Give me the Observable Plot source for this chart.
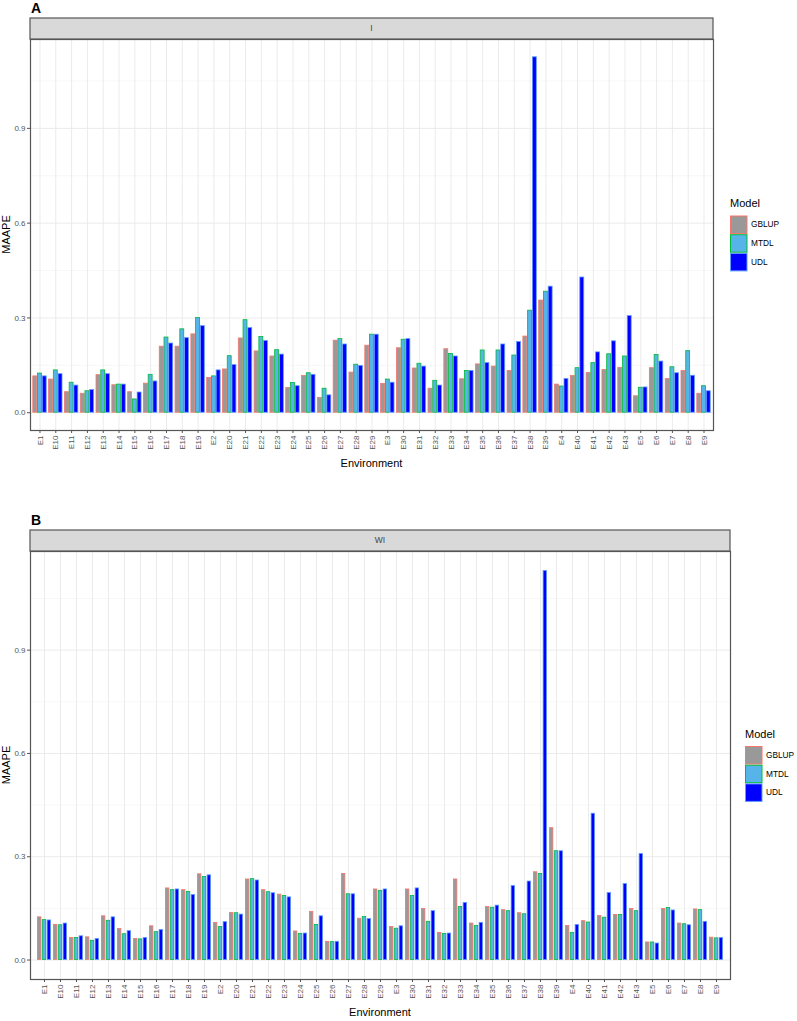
<!DOCTYPE html>
<html>
<head>
<meta charset="utf-8">
<script src="https://cdn.jsdelivr.net/npm/d3@7"></script>
<script src="https://cdn.jsdelivr.net/npm/@observablehq/plot@0.6"></script>
<style>
  body { margin: 0; background: #fff; font-family: "Liberation Sans", Arial, sans-serif; }
  #chart svg { display: block; }
</style>
</head>
<body>
<div id="chart"></div>
<script>
const environments = ["E1","E10","E11","E12","E13","E14","E15","E16","E17","E18","E19","E2","E20","E21","E22","E23","E24","E25","E26","E27","E28","E29","E3","E30","E31","E32","E33","E34","E35","E36","E37","E38","E39","E4","E40","E41","E42","E43","E5","E6","E7","E8","E9"];
const models = ["GBLUP", "MTDL", "UDL"];
const yTicks = [0, 0.3, 0.6, 0.9];
const yMinorTicks = [0.15, 0.45, 0.75, 1.05];

// Panel A (I)
const A_GBLUP = [0.115,0.105,0.065,0.060,0.119,0.087,0.065,0.092,0.209,0.209,0.248,0.110,0.137,0.235,0.194,0.178,0.078,0.116,0.047,0.228,0.127,0.212,0.091,0.204,0.140,0.076,0.201,0.106,0.153,0.146,0.132,0.241,0.355,0.089,0.116,0.126,0.135,0.142,0.052,0.141,0.107,0.132,0.060];
const A_MTDL  = [0.124,0.134,0.095,0.068,0.134,0.089,0.042,0.120,0.238,0.264,0.300,0.115,0.179,0.293,0.240,0.198,0.094,0.125,0.076,0.233,0.152,0.247,0.105,0.231,0.155,0.101,0.186,0.132,0.197,0.197,0.181,0.323,0.383,0.083,0.141,0.157,0.185,0.178,0.079,0.183,0.144,0.195,0.084];
const A_UDL   = [0.115,0.122,0.086,0.072,0.122,0.089,0.064,0.099,0.219,0.236,0.274,0.134,0.151,0.268,0.227,0.184,0.084,0.120,0.055,0.216,0.148,0.247,0.095,0.233,0.146,0.086,0.178,0.132,0.157,0.216,0.224,1.125,0.399,0.107,0.428,0.191,0.226,0.306,0.080,0.162,0.125,0.117,0.068];

// Panel B (WI)
const B_GBLUP = [0.124,0.102,0.064,0.066,0.127,0.090,0.061,0.098,0.208,0.203,0.249,0.108,0.137,0.234,0.203,0.190,0.083,0.140,0.053,0.250,0.120,0.205,0.096,0.205,0.148,0.079,0.234,0.106,0.154,0.145,0.136,0.255,0.383,0.099,0.113,0.128,0.131,0.148,0.051,0.148,0.106,0.147,0.065];
const B_MTDL  = [0.116,0.101,0.064,0.056,0.114,0.075,0.060,0.081,0.203,0.198,0.241,0.096,0.136,0.235,0.197,0.186,0.076,0.102,0.052,0.191,0.125,0.201,0.091,0.186,0.111,0.076,0.154,0.099,0.152,0.142,0.133,0.250,0.316,0.079,0.109,0.123,0.131,0.142,0.051,0.151,0.104,0.145,0.063];
const B_UDL   = [0.115,0.106,0.069,0.061,0.124,0.084,0.064,0.087,0.205,0.189,0.246,0.110,0.132,0.231,0.194,0.182,0.077,0.127,0.053,0.191,0.119,0.205,0.098,0.208,0.142,0.077,0.166,0.108,0.158,0.215,0.228,1.130,0.316,0.102,0.425,0.195,0.221,0.308,0.048,0.144,0.101,0.111,0.064];

const fills   = ["#999999", "#56B4E9", "#0000FF"];
const strokes = ["#F8766D", "#00BA38", "#619CFF"];
const FONT = "'Liberation Sans', Arial, sans-serif";

function makeTable(series) {
  const rows = [];
  environments.forEach((env, i) => {
    models.forEach((m, k) => rows.push({env, model: m, value: series[k][i]}));
  });
  return rows;
}

function decorations(letter, stripLabel, legendGap) {
  return (index, scales, values, dims) => {
    const g = d3.create("svg:g").attr("font-family", FONT);
    const x0 = dims.marginLeft;
    const x1 = dims.width - dims.marginRight;
    const y0 = dims.marginTop;
    const y1 = dims.height - dims.marginBottom;
    const w = x1 - x0;
    // panel letter
    g.append("text").attr("x", x0 + 1).attr("y", y0 - 26).attr("font-size", 14).attr("font-weight", "bold")
      .attr("text-anchor", "start").attr("fill", "#000").text(letter);
    // strip
    g.append("rect").attr("x", x0).attr("y", y0 - 21).attr("width", w).attr("height", 21)
      .attr("fill", "#d9d9d9").attr("stroke", "#555").attr("stroke-width", 1.2);
    g.append("text").attr("x", x0 + w / 2).attr("y", y0 - 10.5).attr("dy", "0.35em")
      .attr("text-anchor", "middle").attr("font-size", 8.5).attr("fill", "#444").text(stripLabel);
    // axis titles
    g.append("text").attr("x", x0 + w / 2).attr("y", y1 + 37).attr("text-anchor", "middle")
      .attr("font-size", 11).attr("fill", "#000").text("Environment");
    g.append("text").attr("transform", `translate(10,${(y0 + y1) / 2}) rotate(-90)`)
      .attr("text-anchor", "middle").attr("font-size", 11).attr("fill", "#000").text("MAAPE");
    // legend
    const lx = x1 + legendGap;
    const ly = (y0 + y1) / 2 - 38;
    g.append("text").attr("x", lx).attr("y", ly + 7).attr("dy", "0.35em").attr("font-size", 11)
      .attr("text-anchor", "start").attr("fill", "#000").text("Model");
    models.forEach((m, k) => {
      const ky = ly + 19 + k * 18.7;
      g.append("rect").attr("x", lx + 0.5).attr("y", ky + 0.5).attr("width", 16.5).attr("height", 17.5)
        .attr("fill", fills[k]).attr("stroke", strokes[k]).attr("stroke-width", 1);
      g.append("text").attr("x", lx + 21).attr("y", ky + 9).attr("dy", "0.35em").attr("font-size", 8.3)
        .attr("text-anchor", "start").attr("fill", "#000").text(m);
    });
    return g.node();
  };
}

function panel({letter, stripLabel, series, height, marginTop, marginBottom, marginRight, legendGap}) {
  const data = makeTable(series);
  const width = 797, marginLeft = 30;
  const plotW = width - marginLeft - marginRight;
  const step = plotW / (environments.length - 0.1 + 2 * 0.15);
  const third = step * 0.9 / 3;
  const ymax = d3.max(data, d => d.value);
  const bars = models.map((m, k) => Plot.barY(data.filter(d => d.model === m), {
    x: "env", y: "value",
    fill: fills[k], stroke: strokes[k], strokeWidth: 0.8,
    insetLeft: k * third + 0.4, insetRight: (2 - k) * third + 0.4
  }));
  return Plot.plot({
    width, height, marginTop, marginBottom, marginLeft, marginRight,
    style: {fontFamily: FONT, background: "#fff", overflow: "visible"},
    x: {domain: environments, paddingInner: 0.1, paddingOuter: 0.15, label: null},
    y: {domain: [-0.05 * ymax, 1.05 * ymax], label: null},
    marks: [
      Plot.ruleY(yMinorTicks, {stroke: "#f2f2f2", strokeWidth: 0.6}),
      Plot.gridY(yTicks, {stroke: "#ebebeb", strokeOpacity: 1, strokeWidth: 1}),
      Plot.gridX({stroke: "#ebebeb", strokeOpacity: 1, strokeWidth: 1}),
      ...bars,
      Plot.axisY(yTicks, {tickFormat: d3.format(".1f"), tickSize: 3, tickPadding: 2, fontSize: 8, color: "#555", stroke: "#555", label: null}),
      Plot.axisX({tickRotate: -90, tickSize: 3, tickPadding: 2, fontSize: 8, color: "#555", stroke: "#555", label: null}),
      Plot.frame({stroke: "#555", strokeWidth: 1.2}),
      decorations(letter, stripLabel, legendGap)
    ]
  });
}

const chart = document.getElementById("chart");
chart.append(panel({letter: "A", stripLabel: "I", series: [A_GBLUP, A_MTDL, A_UDL],
  height: 490, marginTop: 39, marginBottom: 60, marginRight: 84, legendGap: 17}));
chart.append(panel({letter: "B", stripLabel: "WI", series: [B_GBLUP, B_MTDL, B_UDL],
  height: 531, marginTop: 61, marginBottom: 42, marginRight: 67, legendGap: 15}));
</script>
</body>
</html>
